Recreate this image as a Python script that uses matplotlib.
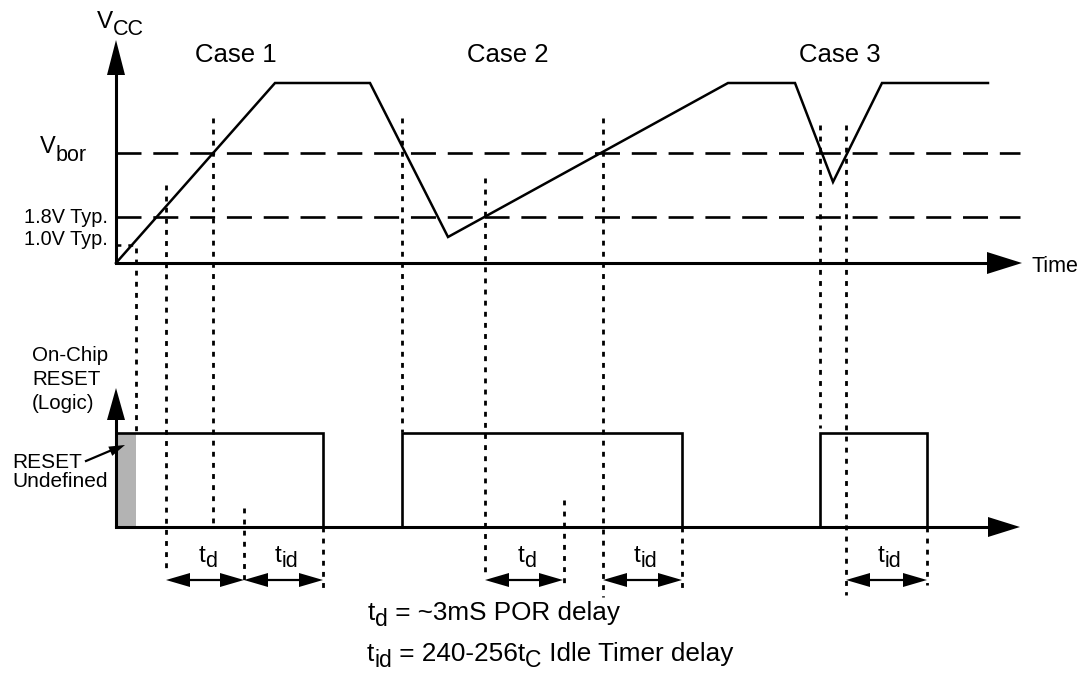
import matplotlib
matplotlib.use("Agg")
import matplotlib.pyplot as plt

plt.rcParams['font.family'] = ['Liberation Sans', 'DejaVu Sans']
plt.rcParams['lines.scale_dashes'] = False

# ==========================================
# Données (coordonnées du schéma, en pixels)
# ==========================================
x_origin = 116
y_time = 263          # axe Vcc / temps
y_low = 527           # niveau bas du RESET
y_high = 433          # niveau haut du RESET
y_bor = 153
y_18 = 217
y_10 = 245
x_end = 1020

vcc_x = [116, 275, 370, 448, 728, 795, 833, 882, 988]
vcc_y = [263, 83, 83, 237, 83, 83, 182, 83, 83]

reset_x = [116, 116, 323, 323, 402, 402, 682, 682, 820, 820, 927, 927]
reset_y = [527, 433, 433, 527, 527, 433, 433, 527, 527, 433, 433, 527]

undef_x = [116, 136]

# lignes pointillées verticales : x, y début, y fin
dotted_x = [136, 166, 213, 244, 323, 402, 485, 564, 603, 682, 820, 846, 927]
dotted_top = [248, 185, 118, 508, 527, 118, 178, 500, 118, 527, 125, 125, 527]
dotted_bot = [432, 573, 527, 580, 590, 432, 573, 585, 597, 593, 428, 595, 585]

# flèches de durée
span_start = [166, 244, 485, 603, 846]
span_stop = [244, 323, 563, 682, 927]
span_sub = ['d', 'id', 'd', 'id', 'id']
y_span = 580

case_labels = ['Case 1', 'Case 2', 'Case 3']
case_left = [195, 467, 799]

fig = plt.figure(figsize=(10.83, 6.75), dpi=100)
ax = fig.add_axes([0, 0, 1, 1])
ax.set_xlim(0, 1083)
ax.set_ylim(675, 0)
ax.axis('off')
renderer = fig.canvas.get_renderer()


def head(tip_x, tip_y, dx, dy, length, half):
    # petite tête de flèche pleine
    bx, by = tip_x - dx * length, tip_y - dy * length
    px, py = -dy * half, dx * half
    ax.fill([tip_x, bx + px, bx - px], [tip_y, by + py, by - py],
            color='black', lw=0, zorder=5)


def rich(x, y, parts, ha='left'):
    # texte avec indices : parts = [(texte, taille, décalage vertical)]
    texts = [ax.text(x, y + dy, s, fontsize=size, va='baseline', ha='left')
             for s, size, dy in parts]
    widths = [t.get_window_extent(renderer).width for t in texts]
    total = sum(widths)
    cur = x - total / 2 if ha == 'center' else x
    for t, w in zip(texts, widths):
        t.set_x(cur)
        cur += w


# --- axes ---
ax.plot([x_origin, x_origin], [y_time, 70], color='black', lw=2.2, solid_capstyle='butt')
head(x_origin, 40, 0, -1, 35, 9)
ax.plot([x_origin, 990], [y_time, y_time], color='black', lw=2.2)
head(1022, y_time, 1, 0, 35, 11)

ax.plot([x_origin, x_origin], [y_low, 415], color='black', lw=2.2, solid_capstyle='butt')
head(x_origin, 388, 0, -1, 32, 9)
ax.plot([x_origin, 990], [y_low, y_low], color='black', lw=2.2)
head(1020, y_low, 1, 0, 32, 10)

# --- seuils ---
for yy in [y_bor, y_18]:
    ax.plot([x_origin, x_end], [yy, yy], color='black', lw=1.9,
            dashes=(18, 8.5), dash_capstyle='butt')
ax.plot([x_origin, 137], [y_10, y_10], color='black', lw=1.8,
        dashes=(3.5, 5), dash_capstyle='butt')

# --- Vcc ---
ax.plot(vcc_x, vcc_y, color='black', lw=1.8, solid_joinstyle='miter')

# --- RESET ---
ax.fill_between(undef_x, y_high, y_low, color='#b3b3b3', lw=0)
ax.plot(reset_x, reset_y, color='black', lw=1.9, solid_joinstyle='miter')

# --- pointillés verticaux ---
for xx, y0, y1 in zip(dotted_x, dotted_top, dotted_bot):
    ax.plot([xx, xx], [y0, y1], color='black', lw=2.0,
            dashes=(3.5, 4.5), dash_capstyle='butt')

# --- flèches de durée ---
for x0, x1, sub in zip(span_start, span_stop, span_sub):
    ax.plot([x0 + 10, x1 - 10], [y_span, y_span], color='black', lw=1.6)
    head(x0, y_span, -1, 0, 24, 7)
    head(x1, y_span, 1, 0, 24, 7)
    rich((x0 + x1) / 2 + 3, 562, [('t', 17.5, 0), (sub, 15.5, 5)], ha='center')

# --- textes ---
for lab, xl in zip(case_labels, case_left):
    ax.text(xl, 62, lab, fontsize=18.5, ha='left', va='baseline')

rich(97, 28, [('V', 17.5, 0), ('CC', 15.5, 7)])
rich(40, 153, [('V', 17, 0), ('bor', 15.5, 8)])
ax.text(108, 223, '1.8V Typ.', fontsize=14.3, ha='right', va='baseline')
ax.text(108, 245, '1.0V Typ.', fontsize=14.3, ha='right', va='baseline')
ax.text(1031, 272, 'Time', fontsize=15.5, ha='left', va='baseline')

ax.text(32, 361, 'On-Chip', fontsize=14.8, ha='left', va='baseline')
ax.text(32, 385, 'RESET', fontsize=14.8, ha='left', va='baseline')
ax.text(32, 409, '(Logic)', fontsize=14.8, ha='left', va='baseline')

ax.text(12, 468, 'RESET', fontsize=15, ha='left', va='baseline')
ax.text(12, 487, 'Undefined', fontsize=15, ha='left', va='baseline')
ax.plot([86, 112], [461, 450], color='black', lw=1.6)
head(125, 445, 0.92, -0.39, 16, 5)

rich(368, 620, [('t', 18.8, 0), ('d', 16.5, 6), (' = ~3mS POR delay', 18.8, 0)])
rich(367, 661, [('t', 18.8, 0), ('id', 16.5, 6), (' = 240-256t', 18.8, 0),
                ('C', 16.5, 6), (' Idle Timer delay', 18.8, 0)])

plt.savefig('out.png', dpi=100)
